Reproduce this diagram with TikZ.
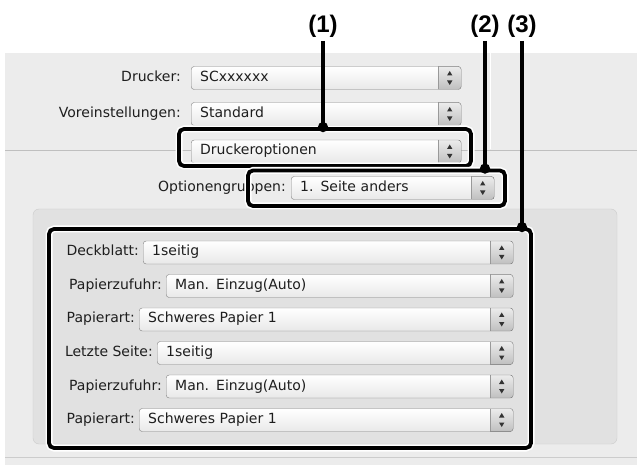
\documentclass[tikz,border=0pt]{standalone}
\usepackage{fontspec}
\setmainfont{DejaVu Sans}
\newfontfamily\calloutfont{Liberation Sans}
\usetikzlibrary{calc, arrows.meta}

\definecolor{panelgray}{HTML}{ECECEC}
\definecolor{boxgray}{HTML}{E1E1E1}
\definecolor{uitext}{HTML}{1E1E1E}

\begin{document}
\begin{tikzpicture}[x=1pt, y=-1pt,
    every node/.style={font=\fontsize{14}{16}\selectfont, text=uitext},
    field/.style={anchor=east, inner sep=0pt, text height=10pt, text depth=3pt},
    popup/.style={anchor=west, draw=black!50, rounded corners=3pt, minimum height=23pt,
      inner xsep=9pt, inner ysep=0pt, text height=10pt, text depth=3pt, align=left,
      top color=white, bottom color=gray!18,
      path picture={
        \fill[sharp corners, top color=gray!15, bottom color=gray!50]
          ($(path picture bounding box.north east)+(-23pt,0pt)$) rectangle (path picture bounding box.south east);
        \draw[sharp corners, black!40]
          ($(path picture bounding box.north east)+(-23pt,0pt)$) -- ($(path picture bounding box.south east)+(-23pt,0pt)$);
        \fill[sharp corners, black!80]
          ($(path picture bounding box.east)+(-11.5pt,7pt)$) -- ++(-2.7pt,-4.5pt) -- ++(5.4pt,0pt) -- cycle;
        \fill[sharp corners, black!80]
          ($(path picture bounding box.east)+(-11.5pt,-7pt)$) -- ++(-2.7pt,4.5pt) -- ++(5.4pt,0pt) -- cycle;
      }},
    callout/.style={draw=black, line width=3.8pt, rounded corners=5pt, inner sep=0pt,
      preaction={draw=white, line width=7pt}},
    number/.style={font=\calloutfont\bfseries\fontsize{24}{26}\selectfont, text=black, inner sep=0pt},
    leader/.style={draw=black, line width=3.8pt, shorten <=3pt, shorten >=-5pt, -{Circle[length=10pt]}}]

    \useasboundingbox (0,0) rectangle (643,465);

    % dialog background
    \fill[panelgray] (5,53) rectangle (637,465);
    \draw[gray!40] (5,457.5) -- (637,457.5);
    \draw[gray!50] (5,150) -- (637,150);
    \draw[white] (490,53) -- (490,149.5);
    \draw[gray!40, fill=boxgray, rounded corners=6pt] (33,209) rectangle (617,444);

    \node[field] (ldrucker) at (181,78) {Drucker:};
    \node[field] (lpreset) at (181,114) {Voreinstellungen:};
    \node[field] (lgroup) at (286,188) {Optionengruppen:};

    \node[popup, text width=252pt] (drucker) at (191,78) {SCxxxxxx};
    \node[popup, text width=252pt] (preset) at (191,114) {Standard};
    \node[popup, text width=252pt] (pane) at (191,151.5) {Druckeroptionen};
    \node[popup, text width=185pt] (group) at (291,188) {1. Seite anders};

    \node[field] (ldeck) at (139,252.5) {Deckblatt:};
    \node[field] (lfeeda) at (162,286) {Papierzufuhr:};
    \node[field] (ltypea) at (135,319.5) {Papierart:};
    \node[field] (llast) at (153,353) {Letzte Seite:};
    \node[field] (lfeedb) at (162,386.5) {Papierzufuhr:};
    \node[field] (ltypeb) at (135,420) {Papierart:};

    \node[popup, text width=352pt] (deck) at (143,252.5) {1seitig};
    \node[popup, text width=329pt] (feeda) at (166,286) {Man. Einzug(Auto)};
    \node[popup, text width=356pt] (typea) at (139,319.5) {Schweres Papier 1};
    \node[popup, text width=338pt] (last) at (157,353) {1seitig};
    \node[popup, text width=329pt] (feedb) at (166,386.5) {Man. Einzug(Auto)};
    \node[popup, text width=356pt] (typeb) at (139,420) {Schweres Papier 1};

    % callouts
    \node[callout, minimum width=292pt, minimum height=37pt] (mark1) at (325,147.5) {};
    \node[callout, minimum width=257pt, minimum height=35.5pt] (mark2) at (376.5,188.25) {};
    \node[callout, minimum width=482pt, minimum height=219pt] (mark3) at (290,338.5) {};

    \node[number] (num1) at (323,26.5) {(1)};
    \node[number] (num2) at (485,26.5) {(2)};
    \node[number] (num3) at (522,26.5) {(3)};

    \draw[leader] (num1.south) -- (num1.south |- mark1.north);
    \draw[leader] (num2.south) -- (num2.south |- mark2.north);
    \draw[leader] (num3.south) -- (num3.south |- mark3.north);

  \end{tikzpicture}
\end{document}
